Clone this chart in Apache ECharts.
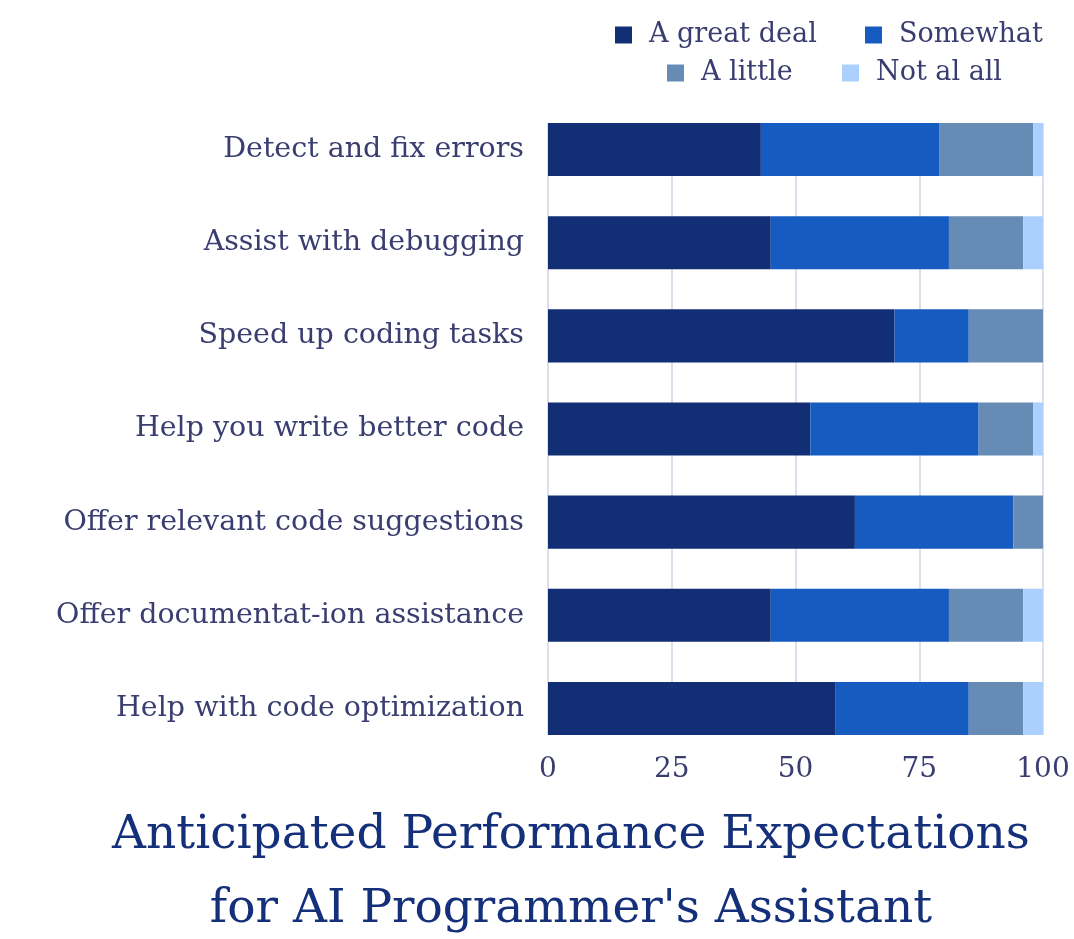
<!DOCTYPE html>
<html>
<head>
<meta charset="utf-8">
<script src="https://cdn.jsdelivr.net/npm/echarts@6/dist/echarts.min.js"></script>
<style>
html,body{margin:0;padding:0;background:#fff;}
#chart{width:1074px;height:939px;}
</style>
</head>
<body>
<div id="chart"></div>
<script>
const categories = [
  "Detect and fix errors",
  "Assist with debugging",
  "Speed up coding tasks",
  "Help you write better code",
  "Offer relevant code suggestions",
  "Offer documentat-ion assistance",
  "Help with code optimization"
];
const greatDeal = [43, 45, 70, 53, 62, 45, 58];
const somewhat  = [36, 36, 15, 34, 32, 36, 27];
const aLittle   = [19, 15, 15, 11, 6, 15, 11];
const notAtAll  = [2, 4, 0, 2, 0, 4, 4];
const xTicks = [0, 25, 50, 75, 100];
const seriesNames = ["A great deal", "Somewhat", "A little", "Not al all"];
const colors = ["#122e75", "#165bc0", "#668cb5", "#abd0fd"];

const FONT = "DejaVu Serif";
const TXT = "#3a3d6f";

const chart = echarts.init(document.getElementById('chart'), null, {renderer: 'canvas'});

function leg(name, left, top) {
  return {
    data: [name], left: left, top: top, padding: 0,
    icon: 'rect', itemWidth: 17, itemHeight: 17,
    textStyle: {fontFamily: FONT, fontSize: 27, color: TXT, padding: [0, 0, 0, 12], lineHeight: 30}
  };
}

const xMin = xTicks[0], xMax = xTicks[xTicks.length - 1];

const option = {
  backgroundColor: '#ffffff',
  color: colors,
  title: {
    text: "Anticipated Performance Expectations\nfor AI Programmer's Assistant",
    left: 566, top: 794, textAlign: 'center',
    textStyle: {fontFamily: FONT, fontSize: 47, fontWeight: 'normal', color: '#15307a', lineHeight: 74}
  },
  legend: [
    leg(seriesNames[0], 615, 20),
    leg(seriesNames[1], 865, 20),
    leg(seriesNames[2], 667, 58),
    leg(seriesNames[3], 842, 58)
  ],
  grid: [
    {left: 548, right: 31, top: 103, bottom: 184, containLabel: false},
    {left: 548, right: 31, top: 123, bottom: 204, containLabel: false}
  ],
  xAxis: [
    {
      gridIndex: 0, type: 'value', min: xMin, max: xMax, interval: 25, show: false
    },
    {
      gridIndex: 1, type: 'value', min: xMin, max: xMax, interval: 25,
      axisLine: {show: false}, axisTick: {show: false},
      splitLine: {show: true, lineStyle: {color: '#d4d4e4', width: 1.5}},
      axisLabel: {fontFamily: FONT, fontSize: 28, color: TXT, margin: 21,
        formatter: v => xTicks.includes(v) ? String(v) : ''}
    }
  ],
  yAxis: [
    {
      gridIndex: 0, type: 'category', inverse: true, data: categories,
      axisLine: {show: false}, axisTick: {show: false}, splitLine: {show: false},
      axisLabel: {fontFamily: FONT, fontSize: 28.5, color: TXT, margin: 24}
    },
    {
      gridIndex: 1, type: 'value', min: 0, max: 1, show: false
    }
  ],
  series: [greatDeal, somewhat, aLittle, notAtAll].map((d, i) => ({
    name: seriesNames[i], type: 'bar', stack: 'total', barWidth: '57%',
    xAxisIndex: 0, yAxisIndex: 0,
    data: d, itemStyle: {color: colors[i]}
  }))
};
chart.setOption(option);
</script>
</body>
</html>
